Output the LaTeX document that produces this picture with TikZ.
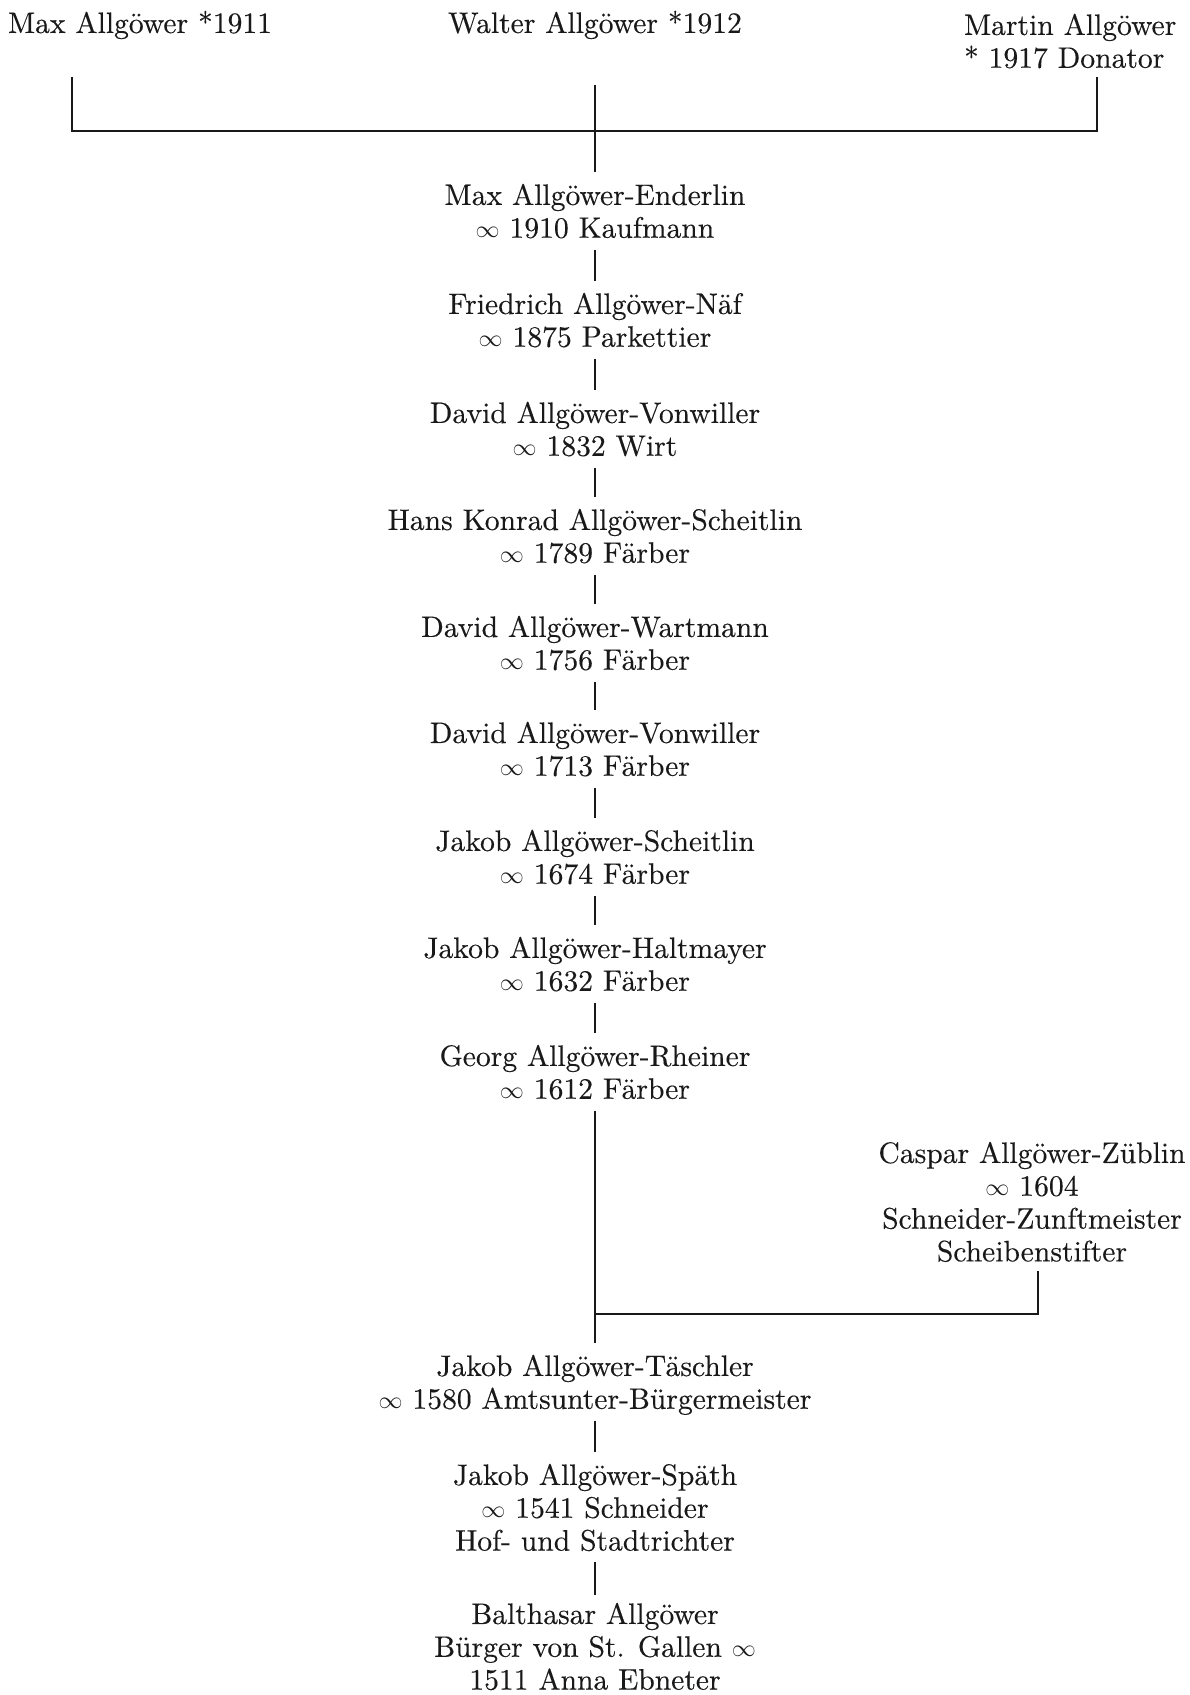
\documentclass[tikz,border=0pt]{standalone}
\usepackage{fontspec}
\setmainfont{lmroman10-regular.otf}[FakeBold=0.25]
\definecolor{ink}{gray}{0.1}
\newcommand\oo{{\fontsize{12.5}{16.4}\selectfont$\infty$}}
\begin{document}
\begin{tikzpicture}[x=0.5pt,y=-0.5pt,
  every node/.style={inner sep=0pt,outer sep=0pt,font=\fontsize{14.8}{16.4}\selectfont,text=ink},
  entry/.style={align=center,anchor=north},
  link/.style={draw=ink,line width=1.3pt},
  gen/.style={link,shorten <=1pt,shorten >=5pt}]
\useasboundingbox (0,0) rectangle (1189,1695);
\fill[white] (0,0) rectangle (1189,1695);

% top generation
\node[anchor=base west] (maxs) at (8,33) {Max Allgöwer *1911};
\node[entry] (walter) at (595,10) {\strut Walter Allgöwer *1912};
\node[align=left,anchor=north west] (martin) at (964,12) {\strut Martin Allgöwer\\\strut * 1917 Donator};

% lineage
\node[entry] (maxe)   at (595,182)  {\strut Max Allgöwer-Enderlin\\\strut \oo{} 1910 Kaufmann};
\node[entry] (fried)  at (595,291)  {\strut Friedrich Allgöwer-Näf\\\strut \oo{} 1875 Parkettier};
\node[entry] (dv1)    at (595,400)  {\strut David Allgöwer-Vonwiller\\\strut \oo{} 1832 Wirt};
\node[entry] (hans)   at (595,507)  {\strut Hans Konrad Allgöwer-Scheitlin\\\strut \oo{} 1789 Färber};
\node[entry] (dw)     at (595,614)  {\strut David Allgöwer-Wartmann\\\strut \oo{} 1756 Färber};
\node[entry] (dv2)    at (595,720)  {\strut David Allgöwer-Vonwiller\\\strut \oo{} 1713 Färber};
\node[entry] (js)     at (595,828)  {\strut Jakob Allgöwer-Scheitlin\\\strut \oo{} 1674 Färber};
\node[entry] (jh)     at (595,935)  {\strut Jakob Allgöwer-Haltmayer\\\strut \oo{} 1632 Färber};
\node[entry] (georg)  at (595,1043) {\strut Georg Allgöwer-Rheiner\\\strut \oo{} 1612 Färber};
\node[entry] (caspar) at (1032,1140) {\strut Caspar Allgöwer-Züblin\\\strut \oo{} 1604\\\strut Schneider-Zunftmeister\\\strut Scheibenstifter};
\node[entry] (jt)     at (595,1353) {\strut Jakob Allgöwer-Täschler\\\strut \oo{} 1580 Amtsunter-Bürgermeister};
\node[entry] (jsp)    at (595,1462) {\strut Jakob Allgöwer-Späth\\\strut \oo{} 1541 Schneider\\\strut Hof- und Stadtrichter};
\node[entry] (balth)  at (595,1601) {\strut Balthasar Allgöwer\\\strut Bürger von St. Gallen \oo\\\strut 1511 Anna Ebneter};

% sibling bracket
\coordinate (sL) at (72,77);
\coordinate (bL) at (72,131);
\coordinate (bR) at (1097,131);
\coordinate (sR) at (1097,77);
\draw[link,line width=1.1pt] (sL) -- (bL) -- (bR) -- (sR);
\draw[link,shorten <=21pt,shorten >=5pt] (walter.south) -- (maxe.north);

% generations
\draw[gen] (maxe.south) -- (fried.north);
\draw[gen] (fried.south) -- (dv1.north);
\draw[gen] (dv1.south) -- (hans.north);
\draw[gen] (hans.south) -- (dw.north);
\draw[gen] (dw.south) -- (dv2.north);
\draw[gen] (dv2.south) -- (js.north);
\draw[gen] (js.south) -- (jh.north);
\draw[gen] (jh.south) -- (georg.north);
\draw[gen] (georg.south) -- (jt.north);
\draw[gen] (jt.south) -- (jsp.north);
\draw[gen,shorten >=3pt] (jsp.south) -- (balth.north);

% Caspar branch
\coordinate (cx) at (1038,1314);
\coordinate (jn) at (595,1314);
\draw[link] (caspar.south -| cx) -- (cx) -- (jn);
\end{tikzpicture}
\end{document}
